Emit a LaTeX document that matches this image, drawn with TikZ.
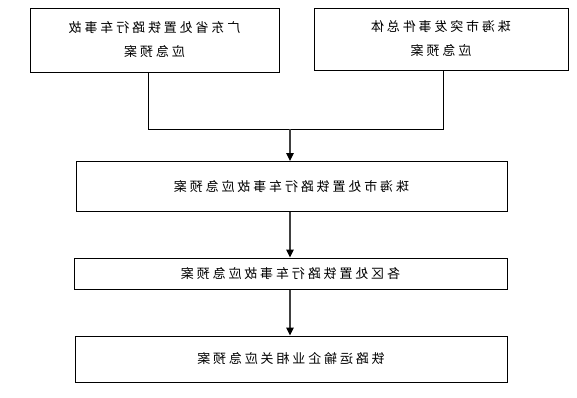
\documentclass[tikz,border=0pt]{standalone}
\usepackage{fontspec}
\newfontfamily\cjk[LetterSpace=22]{Noto Sans CJK SC}
\usetikzlibrary{arrows.meta}
\newcommand{\mirr}[1]{\scalebox{-1}[1]{#1}}
\tikzset{
  box/.style={draw=black, line width=1pt, inner sep=0pt, align=center, font=\cjk\fontsize{13}{24}\selectfont},
  conn/.style={draw=black!75, line width=1.1pt},
  arr/.style={conn, -{Triangle[length=8pt,width=7.5pt,color=black]}}
}
\begin{document}
\begin{tikzpicture}[x=1pt,y=-1pt]
\useasboundingbox[fill=white] (0,0) rectangle (577,397);
\node[box, minimum width=249pt, minimum height=64pt] (A) at (154.5,40)
  {\mirr{\begin{tabular}{@{}c@{}}广东省处置铁路行车事故\\应急预案\end{tabular}}};
\node[box, minimum width=254pt, minimum height=62pt] (B) at (441,39)
  {\mirr{\begin{tabular}{@{}c@{}}珠海市突发事件总体\\应急预案\end{tabular}}};
\node[box, minimum width=431pt, minimum height=50pt] (C) at (291.5,186.5)
  {\mirr{珠海市处置铁路行车事故应急预案}};
\node[box, minimum width=433pt, minimum height=31pt] (D) at (290.5,273.5)
  {\mirr{各区处置铁路行车事故应急预案}};
\node[box, minimum width=432pt, minimum height=46pt] (E) at (291,359)
  {\mirr{铁路运输企业相关应急预案}};
\coordinate (ja) at (148,129);
\coordinate (jb) at (443,129);
\coordinate (j) at (290,129);
\draw[line width=1pt] (A.south -| ja) -- (ja) -- (jb) -- (B.south -| jb);
\draw[arr] (j) -- (j |- C.north);
\draw[arr] (C.south -| j) -- (D.north -| j);
\draw[arr] (D.south -| j) -- (E.north -| j);
\end{tikzpicture}
\end{document}
